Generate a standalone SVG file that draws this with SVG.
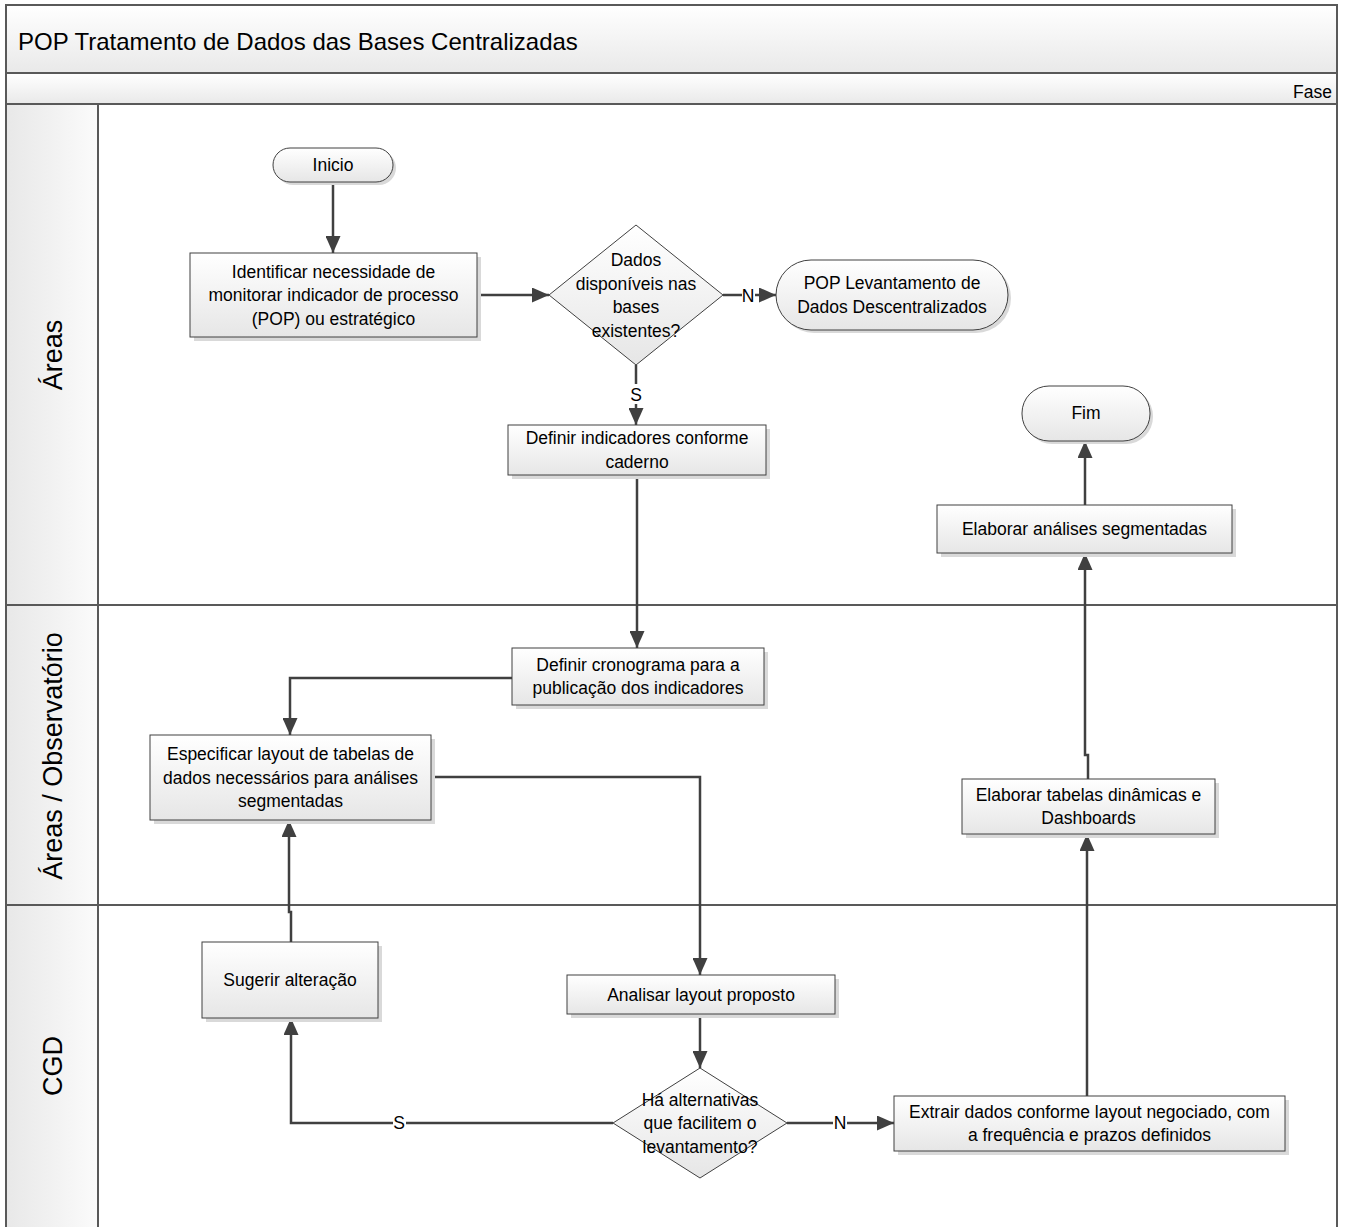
<svg xmlns="http://www.w3.org/2000/svg" width="1348" height="1227" viewBox="0 0 1348 1227">
<defs>
<linearGradient id="gNode" x1="0" y1="0" x2="0" y2="1">
<stop offset="0" stop-color="#ffffff"/>
<stop offset="1" stop-color="#e6e6e6"/>
</linearGradient>
<linearGradient id="gBand" x1="0" y1="0" x2="0" y2="1">
<stop offset="0" stop-color="#ffffff"/>
<stop offset="1" stop-color="#e9e9e9"/>
</linearGradient>
<linearGradient id="gLane" x1="0" y1="0" x2="1" y2="0">
<stop offset="0" stop-color="#e8e8e8"/>
<stop offset="1" stop-color="#fbfbfb"/>
</linearGradient>
<marker id="arr" markerUnits="userSpaceOnUse" markerWidth="17" markerHeight="15" refX="17" refY="7.5" orient="auto">
<path d="M0,0 L17,7.5 L0,15 z" fill="#404040"/>
</marker>
</defs>
<style>
.frame{fill:none;stroke:#595959;stroke-width:2}
.node{fill:url(#gNode);stroke:#404040;stroke-width:1}
.shadow{fill:#d9d9d9;stroke:none}
.t{font-family:"Liberation Sans",Arial,sans-serif;font-size:17.5px;fill:#000;text-anchor:middle}
.lane{font-family:"Liberation Sans",Arial,sans-serif;font-size:27px;fill:#000;text-anchor:middle}
.title{font-family:"Liberation Sans",Arial,sans-serif;font-size:24px;fill:#000}
.conn{fill:none;stroke:#404040;stroke-width:2.5}
.lbl{font-family:"Liberation Sans",Arial,sans-serif;font-size:17.5px;fill:#000;text-anchor:middle}
</style>
<rect x="0" y="0" width="1348" height="1227" fill="#ffffff"/>

<g id="pool">
<rect x="6" y="5" width="1331" height="68" fill="url(#gBand)"/>
<rect x="6" y="73" width="1331" height="31" fill="url(#gBand)"/>
<rect x="6" y="104" width="92" height="501" fill="url(#gLane)"/>
<rect x="6" y="605" width="92" height="300" fill="url(#gLane)"/>
<rect x="6" y="905" width="92" height="330" fill="url(#gLane)"/>
<path class="frame" d="M6,1235 V5 H1337 V1235"/>
<path class="frame" d="M6,73 H1337 M6,104 H1337 M6,605 H1337 M6,905 H1337 M98,104 V1235"/>
<text class="title" x="18" y="50">POP Tratamento de Dados das Bases Centralizadas</text>
<text x="1332" y="98" font-family="Liberation Sans, Arial, sans-serif" font-size="17.5" text-anchor="end">Fase</text>
<text class="lane" transform="translate(62,355) rotate(-90)">Áreas</text>
<text class="lane" transform="translate(62,756) rotate(-90)">Áreas / Observatório</text>
<text class="lane" transform="translate(62,1066) rotate(-90)">CGD</text>
</g>

<g id="connectors">
<path class="conn" d="M333,182 V253" marker-end="url(#arr)"/>
<path class="conn" d="M477,295 H549" marker-end="url(#arr)"/>
<path class="conn" d="M723,295 H776" marker-end="url(#arr)"/>
<path class="conn" d="M636,365 V425" marker-end="url(#arr)"/>
<path class="conn" d="M637,475 V648" marker-end="url(#arr)"/>
<path class="conn" d="M512,678 H290 V735" marker-end="url(#arr)"/>
<path class="conn" d="M431,777 H700 V975" marker-end="url(#arr)"/>
<path class="conn" d="M700,1014 V1068" marker-end="url(#arr)"/>
<path class="conn" d="M787,1123 H894" marker-end="url(#arr)"/>
<path class="conn" d="M613,1123 H291 V1018" marker-end="url(#arr)"/>
<path class="conn" d="M291,942 V912 H289 V820" marker-end="url(#arr)"/>
<path class="conn" d="M1087,1096 V834" marker-end="url(#arr)"/>
<path class="conn" d="M1088,779 V755 H1085 V553" marker-end="url(#arr)"/>
<path class="conn" d="M1085,505 V441" marker-end="url(#arr)"/>
<rect x="742" y="285" width="13" height="20" fill="#ffffff"/>
<text class="lbl" x="748" y="302">N</text>
<rect x="630" y="384" width="13" height="20" fill="#ffffff"/>
<text class="lbl" x="636" y="401">S</text>
<rect x="833" y="1113" width="14" height="20" fill="#ffffff"/>
<text class="lbl" x="840" y="1129">N</text>
<rect x="393" y="1113" width="13" height="20" fill="#ffffff"/>
<text class="lbl" x="399" y="1129">S</text>
</g>

<g id="inicio">
<rect class="shadow" x="276" y="151" width="120" height="34" rx="17"/>
<rect class="node" x="273" y="148" width="120" height="34" rx="17"/>
<text class="t" x="333" y="171">Inicio</text>
</g>

<g id="identificar">
<rect class="shadow" x="194" y="257" width="287" height="84"/>
<rect class="node" x="190" y="253" width="287" height="84"/>
<text class="t" x="333.5" y="277.5">Identificar necessidade de</text>
<text class="t" x="333.5" y="301">monitorar indicador de processo</text>
<text class="t" x="333.5" y="324.5">(POP) ou estratégico</text>
</g>

<g id="decisao1">
<polygon class="node" points="636,225 723,295 636,365 549,295"/>
<text class="t" x="636" y="266">Dados</text>
<text class="t" x="636" y="289.5">disponíveis nas</text>
<text class="t" x="636" y="313">bases</text>
<text class="t" x="636" y="336.5">existentes?</text>
</g>

<g id="pop-levantamento">
<rect class="shadow" x="779" y="263" width="232" height="70" rx="35"/>
<rect class="node" x="776" y="260" width="232" height="70" rx="35"/>
<text class="t" x="892" y="289">POP Levantamento de</text>
<text class="t" x="892" y="313">Dados Descentralizados</text>
</g>

<g id="fim">
<rect class="shadow" x="1025" y="389" width="128" height="55" rx="27"/>
<rect class="node" x="1022" y="386" width="128" height="55" rx="27"/>
<text class="t" x="1086" y="419">Fim</text>
</g>

<g id="definir-indicadores">
<rect class="shadow" x="512" y="429" width="258" height="50"/>
<rect class="node" x="508" y="425" width="258" height="50"/>
<text class="t" x="637" y="444">Definir indicadores conforme</text>
<text class="t" x="637" y="468">caderno</text>
</g>

<g id="elaborar-analises">
<rect class="shadow" x="941" y="509" width="295" height="48"/>
<rect class="node" x="937" y="505" width="295" height="48"/>
<text class="t" x="1084.5" y="535">Elaborar análises segmentadas</text>
</g>

<g id="definir-cronograma">
<rect class="shadow" x="516" y="652" width="252" height="57"/>
<rect class="node" x="512" y="648" width="252" height="57"/>
<text class="t" x="638" y="671">Definir cronograma para a</text>
<text class="t" x="638" y="694">publicação dos indicadores</text>
</g>

<g id="especificar">
<rect class="shadow" x="154" y="739" width="281" height="85"/>
<rect class="node" x="150" y="735" width="281" height="85"/>
<text class="t" x="290.5" y="760">Especificar layout de tabelas de</text>
<text class="t" x="290.5" y="783.5">dados necessários para análises</text>
<text class="t" x="290.5" y="807">segmentadas</text>
</g>

<g id="elaborar-tabelas">
<rect class="shadow" x="966" y="783" width="253" height="55"/>
<rect class="node" x="962" y="779" width="253" height="55"/>
<text class="t" x="1088.5" y="801">Elaborar tabelas dinâmicas e</text>
<text class="t" x="1088.5" y="824">Dashboards</text>
</g>

<g id="sugerir">
<rect class="shadow" x="206" y="946" width="176" height="76"/>
<rect class="node" x="202" y="942" width="176" height="76"/>
<text class="t" x="290" y="986">Sugerir alteração</text>
</g>

<g id="analisar">
<rect class="shadow" x="571" y="979" width="268" height="39"/>
<rect class="node" x="567" y="975" width="268" height="39"/>
<text class="t" x="701" y="1000.5">Analisar layout proposto</text>
</g>

<g id="decisao2">
<polygon class="node" points="700,1068 787,1123 700,1178 613,1123"/>
<text class="t" x="700" y="1105.5">Há alternativas</text>
<text class="t" x="700" y="1129">que facilitem o</text>
<text class="t" x="700" y="1152.5">levantamento?</text>
</g>

<g id="extrair">
<rect class="shadow" x="898" y="1100" width="391" height="55"/>
<rect class="node" x="894" y="1096" width="391" height="55"/>
<text class="t" x="1089.5" y="1118">Extrair dados conforme layout negociado, com</text>
<text class="t" x="1089.5" y="1141">a frequência e prazos definidos</text>
</g>
</svg>
